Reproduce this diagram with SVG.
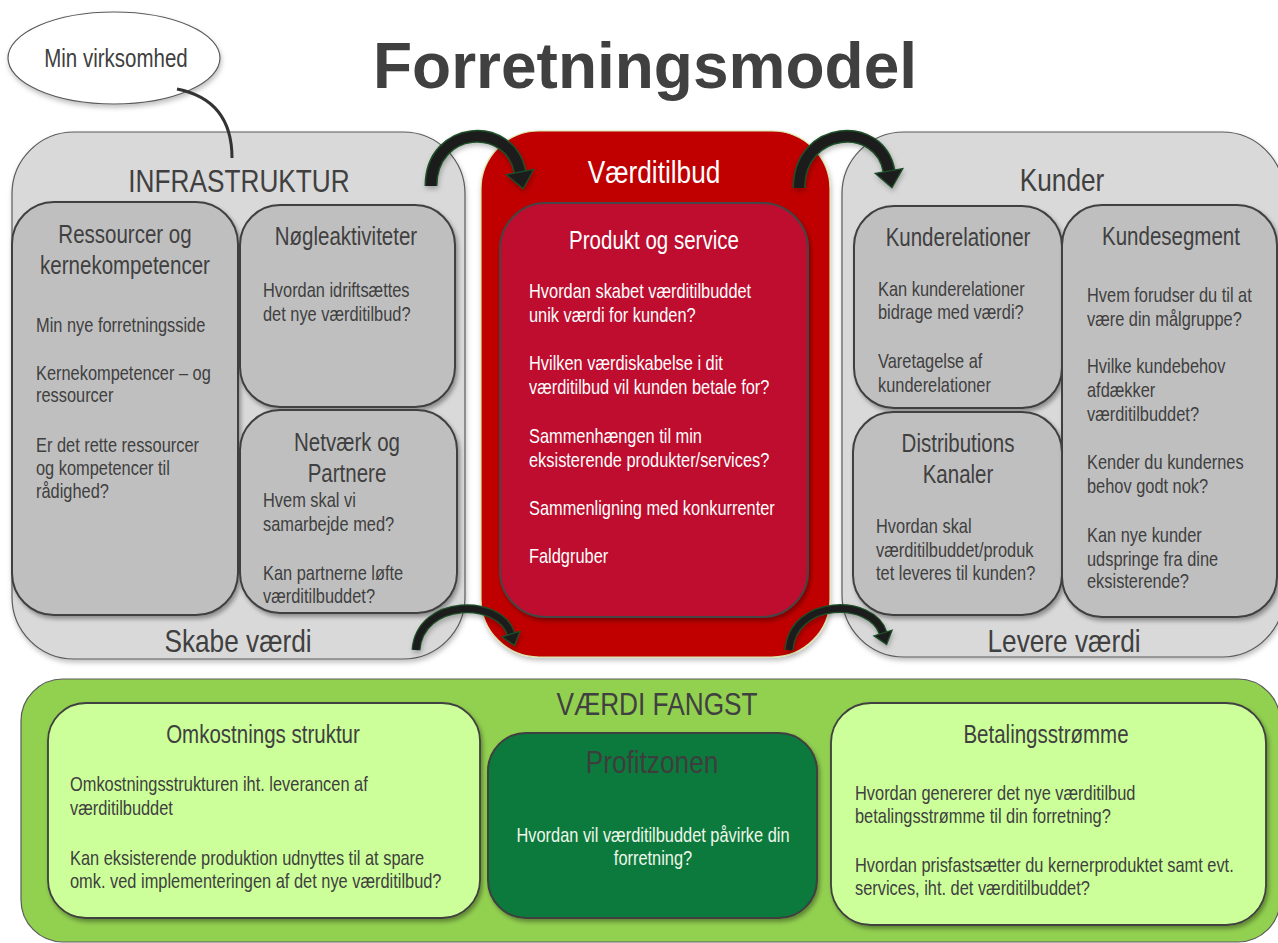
<svg xmlns="http://www.w3.org/2000/svg" width="1278" height="943" viewBox="0 0 1278 943">
  <defs>
    <style>
      text { font-family: "Liberation Sans", Arial, sans-serif; }
      .title { font-weight: bold; font-size: 64px; fill: #404040; text-anchor: middle; }
      .hdr { font-size: 32px; fill: #404040; text-anchor: middle; }
      .ttl { font-size: 25px; fill: #404040; text-anchor: middle; }
      .body { font-size: 20px; fill: #404040; }
      .mid { text-anchor: middle; }
      .white { fill: #ffffff; }
      .panel-grey { fill: #d9d9d9; stroke: #5a5a5a; stroke-width: 1.2; }
      .box-grey { fill: #bfbfbf; stroke: #3f3f3f; stroke-width: 2; }
      .box-light { fill: #ccff99; stroke: #3f3f3f; stroke-width: 1.8; }
      .arrow-edge { fill: none; stroke: #1f5029; stroke-linecap: butt; }
      .arrow-core { fill: none; stroke: #1c1c1c; stroke-linecap: butt; }
      .head { fill: #1c1c1c; stroke: #1f5029; stroke-width: 1.3; stroke-linejoin: miter; }
    </style>
    <filter id="shadow" x="-10%" y="-10%" width="125%" height="125%">
      <feDropShadow dx="2" dy="3" stdDeviation="2.2" flood-color="#000" flood-opacity="0.35"/>
    </filter>
    <filter id="shadow-soft" x="-10%" y="-10%" width="125%" height="125%">
      <feDropShadow dx="1" dy="3" stdDeviation="2.5" flood-color="#000" flood-opacity="0.25"/>
    </filter>
    <marker id="head-lg" markerUnits="userSpaceOnUse" viewBox="-2 -17 21 34" refX="0" refY="0" markerWidth="21" markerHeight="34" orient="auto">
      <path class="head" d="M0,-14 L17,0 L0,14 Z"/>
    </marker>
    <marker id="head-sm" markerUnits="userSpaceOnUse" viewBox="-2 -12 16 24" refX="0" refY="0" markerWidth="16" markerHeight="24" orient="auto">
      <path class="head" d="M0,-9.5 L12,0 L0,9.5 Z"/>
    </marker>
  </defs>

  <rect x="0" y="0" width="1278" height="943" fill="#ffffff"/>

  <text class="title" x="645" y="88">Forretningsmodel</text>

  <!-- Labels use a narrowed sans: each text is placed by translate() and compressed horizontally -->

  <!-- Left column: infrastructure -->
  <g id="infrastruktur">
    <rect class="panel-grey" x="12" y="132" width="453" height="527" rx="62" filter="url(#shadow-soft)"/>
    <text class="hdr" transform="translate(239 192) scale(0.82 1)">INFRASTRUKTUR</text>
    <text class="hdr" transform="translate(238 652) scale(0.82 1)">Skabe værdi</text>
  </g>

  <g id="ressourcer">
    <rect class="box-grey" x="12" y="202" width="226" height="413" rx="42" filter="url(#shadow)"/>
    <text class="ttl" transform="translate(125 243) scale(0.82 1)">Ressourcer og</text>
    <text class="ttl" transform="translate(125 274) scale(0.82 1)">kernekompetencer</text>
    <text class="body" transform="translate(36 332) scale(0.82 1)">Min nye forretningsside</text>
    <text class="body" transform="translate(36 380) scale(0.82 1)">Kernekompetencer – og</text>
    <text class="body" transform="translate(36 402) scale(0.82 1)">ressourcer</text>
    <text class="body" transform="translate(36 452) scale(0.82 1)">Er det rette ressourcer</text>
    <text class="body" transform="translate(36 475) scale(0.82 1)">og kompetencer til</text>
    <text class="body" transform="translate(36 498) scale(0.82 1)">rådighed?</text>
  </g>

  <g id="noegleaktiviteter">
    <rect class="box-grey" x="240" y="205" width="215" height="202" rx="40" filter="url(#shadow)"/>
    <text class="ttl" transform="translate(346 245) scale(0.82 1)">Nøgleaktiviteter</text>
    <text class="body" transform="translate(263 297) scale(0.82 1)">Hvordan idriftsættes</text>
    <text class="body" transform="translate(263 321) scale(0.82 1)">det nye værditilbud?</text>
  </g>

  <g id="netvaerk">
    <rect class="box-grey" x="240" y="410" width="217" height="203" rx="40" filter="url(#shadow)"/>
    <text class="ttl" transform="translate(347 451) scale(0.82 1)">Netværk og</text>
    <text class="ttl" transform="translate(347 482) scale(0.82 1)">Partnere</text>
    <text class="body" transform="translate(263 507) scale(0.82 1)">Hvem skal vi</text>
    <text class="body" transform="translate(263 531) scale(0.82 1)">samarbejde med?</text>
    <text class="body" transform="translate(263 580) scale(0.82 1)">Kan partnerne løfte</text>
    <text class="body" transform="translate(263 603) scale(0.82 1)">værditilbuddet?</text>
  </g>

  <!-- Centre column: value proposition -->
  <g id="vaerditilbud">
    <rect x="481" y="131" width="349" height="526" rx="58" fill="#c00000" stroke="#d9e6a6" stroke-width="1.2" filter="url(#shadow-soft)"/>
    <text class="hdr white" transform="translate(654 183) scale(0.82 1)">Værditilbud</text>
  </g>

  <g id="produkt-og-service">
    <rect x="500" y="203" width="308" height="414" rx="46" fill="#be0c2e" stroke="#454545" stroke-width="2" filter="url(#shadow)"/>
    <text class="ttl white" transform="translate(654 249) scale(0.82 1)">Produkt og service</text>
    <text class="body white" transform="translate(529 298) scale(0.82 1)">Hvordan skabet værditilbuddet</text>
    <text class="body white" transform="translate(529 322) scale(0.82 1)">unik værdi  for kunden?</text>
    <text class="body white" transform="translate(529 370) scale(0.82 1)">Hvilken værdiskabelse i dit</text>
    <text class="body white" transform="translate(529 394) scale(0.82 1)">værditilbud vil  kunden betale for?</text>
    <text class="body white" transform="translate(529 443) scale(0.82 1)">Sammenhængen til min</text>
    <text class="body white" transform="translate(529 467) scale(0.82 1)">eksisterende produkter/services?</text>
    <text class="body white" transform="translate(529 515) scale(0.82 1)">Sammenligning med konkurrenter</text>
    <text class="body white" transform="translate(529 563) scale(0.82 1)">Faldgruber</text>
  </g>

  <!-- Right column: customers -->
  <g id="kunder">
    <rect class="panel-grey" x="842" y="132" width="442" height="525" rx="62" filter="url(#shadow-soft)"/>
    <text class="hdr" transform="translate(1062 191) scale(0.82 1)">Kunder</text>
    <text class="hdr" transform="translate(1064 652) scale(0.82 1)">Levere værdi</text>
  </g>

  <g id="kunderelationer">
    <rect class="box-grey" x="854" y="206" width="208" height="202" rx="40" filter="url(#shadow)"/>
    <text class="ttl" transform="translate(958 246) scale(0.82 1)">Kunderelationer</text>
    <text class="body" transform="translate(878 296) scale(0.82 1)">Kan kunderelationer</text>
    <text class="body" transform="translate(878 319) scale(0.82 1)">bidrage med værdi?</text>
    <text class="body" transform="translate(878 368) scale(0.82 1)">Varetagelse af</text>
    <text class="body" transform="translate(878 392) scale(0.82 1)">kunderelationer</text>
  </g>

  <g id="distributionskanaler">
    <rect class="box-grey" x="853" y="412" width="209" height="203" rx="40" filter="url(#shadow)"/>
    <text class="ttl" transform="translate(958 452) scale(0.82 1)">Distributions</text>
    <text class="ttl" transform="translate(958 483) scale(0.82 1)">Kanaler</text>
    <text class="body" transform="translate(876 533) scale(0.82 1)">Hvordan skal</text>
    <text class="body" transform="translate(876 557) scale(0.82 1)">værditilbuddet/produk</text>
    <text class="body" transform="translate(876 580) scale(0.82 1)">tet leveres til kunden?</text>
  </g>

  <g id="kundesegment">
    <rect class="box-grey" x="1062" y="205" width="215" height="412" rx="40" filter="url(#shadow)"/>
    <text class="ttl" transform="translate(1171 245) scale(0.82 1)">Kundesegment</text>
    <text class="body" transform="translate(1087 302) scale(0.82 1)">Hvem forudser du til at</text>
    <text class="body" transform="translate(1087 326) scale(0.82 1)">være din målgruppe?</text>
    <text class="body" transform="translate(1087 373) scale(0.82 1)">Hvilke kundebehov</text>
    <text class="body" transform="translate(1087 397) scale(0.82 1)">afdækker</text>
    <text class="body" transform="translate(1087 421) scale(0.82 1)">værditilbuddet?</text>
    <text class="body" transform="translate(1087 469) scale(0.82 1)">Kender du kundernes</text>
    <text class="body" transform="translate(1087 493) scale(0.82 1)">behov godt nok?</text>
    <text class="body" transform="translate(1087 542) scale(0.82 1)">Kan nye kunder</text>
    <text class="body" transform="translate(1087 566) scale(0.82 1)">udspringe fra dine</text>
    <text class="body" transform="translate(1087 588) scale(0.82 1)">eksisterende?</text>
  </g>

  <!-- Bottom band: value capture -->
  <g id="vaerdi-fangst">
    <rect x="21" y="679" width="1259" height="263" rx="42" fill="#92d050" stroke="#5a5a5a" stroke-width="1.2"/>
    <text class="hdr" transform="translate(657 715) scale(0.82 1)">VÆRDI FANGST</text>
  </g>

  <g id="omkostningsstruktur">
    <rect class="box-light" x="48" y="703" width="432" height="215" rx="38" filter="url(#shadow)"/>
    <text class="ttl" transform="translate(263 743) scale(0.82 1)">Omkostnings struktur</text>
    <text class="body" transform="translate(70 791) scale(0.82 1)">Omkostningsstrukturen iht. leverancen af</text>
    <text class="body" transform="translate(70 815) scale(0.82 1)">værditilbuddet</text>
    <text class="body" transform="translate(70 865) scale(0.82 1)">Kan eksisterende produktion udnyttes til at spare</text>
    <text class="body" transform="translate(70 888) scale(0.82 1)">omk. ved  implementeringen af det nye værditilbud?</text>
  </g>

  <g id="profitzonen">
    <rect x="488" y="733" width="329" height="185" rx="38" fill="#0b7a3d" stroke="#3f3f3f" stroke-width="2" filter="url(#shadow)"/>
    <text class="hdr" transform="translate(652 773) scale(0.82 1)" style="fill:#3d3d3d">Profitzonen</text>
    <text class="body mid" transform="translate(653 842) scale(0.82 1)" style="fill:#eef7ea">Hvordan vil værditilbuddet påvirke din</text>
    <text class="body mid" transform="translate(653 865) scale(0.82 1)" style="fill:#eef7ea">forretning?</text>
  </g>

  <g id="betalingsstroemme">
    <rect class="box-light" x="831" y="703" width="435" height="222" rx="40" filter="url(#shadow)"/>
    <text class="ttl" transform="translate(1046 743) scale(0.82 1)">Betalingsstrømme</text>
    <text class="body" transform="translate(855 800) scale(0.82 1)">Hvordan genererer det nye værditilbud</text>
    <text class="body" transform="translate(855 823) scale(0.82 1)">betalingsstrømme til din forretning?</text>
    <text class="body" transform="translate(855 872) scale(0.82 1)">Hvordan prisfastsætter du kernerproduktet samt evt.</text>
    <text class="body" transform="translate(855 895) scale(0.82 1)">services, iht. det værditilbuddet?</text>
  </g>

  <!-- Callout bubble -->
  <g id="min-virksomhed">
    <ellipse cx="114" cy="58" rx="106" ry="46" fill="#ffffff" stroke="#5a5a5a" stroke-width="1.2" filter="url(#shadow-soft)"/>
    <text class="mid" transform="translate(116 67) scale(0.82 1)" style="font-size:25px; fill:#404040">Min virksomhed</text>
  </g>

  <!-- Connectors: callout tail and the four flow arrows -->
  <g id="connectors">
    <path d="M177 89 Q232 100 232 158" fill="none" stroke="#333333" stroke-width="3"/>
    <g filter="url(#shadow-soft)">
      <!-- Infrastruktur -> Værditilbud (top) -->
      <path class="arrow-edge" stroke-width="13" d="M431 186 C431 125 510 120 520 172"/>
      <path class="arrow-core" stroke-width="10" d="M431 186 C431 125 510 120 520 172" marker-end="url(#head-lg)"/>
      <!-- Værditilbud -> Kunder (top) -->
      <path class="arrow-edge" stroke-width="13" d="M799 188 C799 125 880 120 889 171"/>
      <path class="arrow-core" stroke-width="10" d="M799 188 C799 125 880 120 889 171" marker-end="url(#head-lg)"/>
      <!-- Skabe værdi -> Værditilbud (bottom) -->
      <path class="arrow-edge" stroke-width="9" d="M416 650 C420 598 500 598 511 634"/>
      <path class="arrow-core" stroke-width="6.5" d="M416 650 C420 598 500 598 511 634" marker-end="url(#head-sm)"/>
      <!-- Værditilbud -> Levere værdi (bottom) -->
      <path class="arrow-edge" stroke-width="9" d="M789 650 C793 598 872 598 883 633"/>
      <path class="arrow-core" stroke-width="6.5" d="M789 650 C793 598 872 598 883 633" marker-end="url(#head-sm)"/>
    </g>
  </g>
</svg>
